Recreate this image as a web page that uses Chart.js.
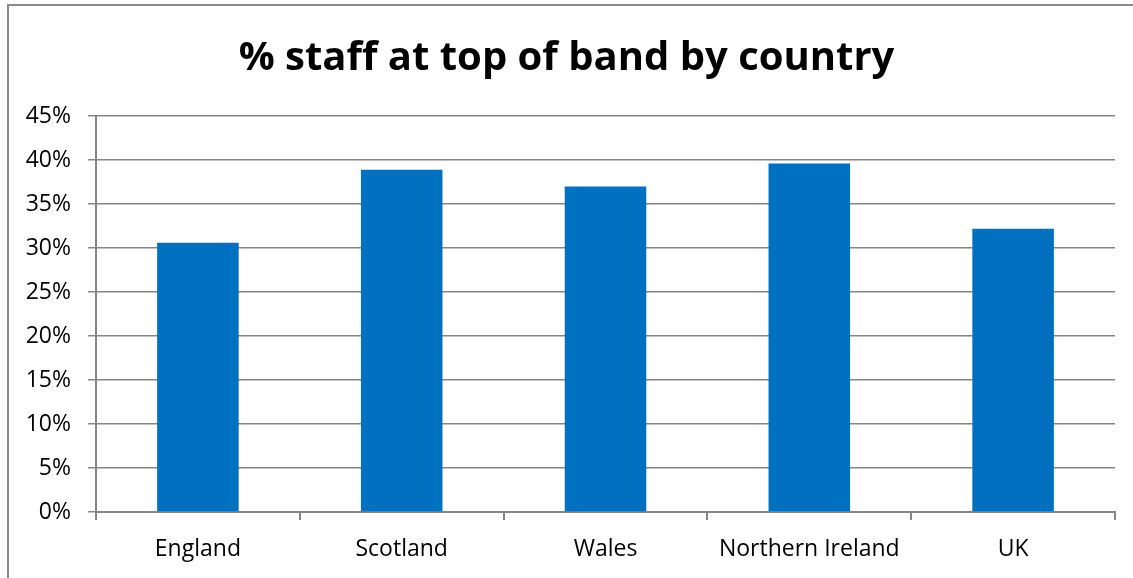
<!DOCTYPE html>
<html>
<head>
<meta charset="utf-8">
<script src="https://cdn.jsdelivr.net/npm/chart.js@4.4.0/dist/chart.umd.min.js"></script>
<style>
  html, body { margin: 0; padding: 0; background: #fff; }
  #wrap { position: relative; width: 1133px; height: 578px; overflow: hidden; }
  #frame { position: absolute; left: 7px; top: 4px; width: 1200px; height: 700px;
           border-top: 2px solid #8a8a8a; border-left: 2px solid #8a8a8a; }
  canvas { position: absolute; left: 0; top: 0; }
</style>
</head>
<body>
<div id="wrap">
  <div id="frame"></div>
  <canvas id="myChart" width="1133" height="578"></canvas>
</div>
<script>
// DATA
const chartTitle = "% staff at top of band by country";
const countries = ["England", "Scotland", "Wales", "Northern Ireland", "UK"];
const topOfBandPct = [30.6, 38.9, 37.0, 39.6, 32.2];
const yTickValues = [0, 5, 10, 15, 20, 25, 30, 35, 40, 45];

const gridGrey = "#868686";
const barBlue = "#0070C0";

const ctx = document.getElementById("myChart").getContext("2d");

const myChartObj = new Chart(ctx, {
  type: "bar",
  data: {
    labels: countries,
    datasets: [
      {
        label: "% staff at top of band",
        data: topOfBandPct,
        backgroundColor: barBlue,
        borderWidth: 0,
        barPercentage: 0.4,
        categoryPercentage: 1,
      },
    ],
  },
  options: {
    responsive: false,
    animation: false,
    layout: {
      padding: { left: 18, right: 18, top: 0, bottom: 0 },
    },
    plugins: {
      legend: { display: false },
      tooltip: { enabled: false },
      title: {
        display: true,
        text: chartTitle,
        color: "#000",
        font: { family: "'Open Sans'", size: 40, weight: "bold", lineHeight: 1.2 },
        padding: { top: 35, bottom: 33 },
      },
    },
    scales: {
      x: {
        offset: true,
        grid: {
          offset: true,
          drawOnChartArea: false,
          drawTicks: true,
          tickLength: 8,
          color: gridGrey,
          lineWidth: 2,
        },
        border: { display: true, color: gridGrey, width: 2 },
        ticks: {
          color: "#000",
          font: { family: "'Open Sans'", size: 23 },
          padding: 16,
          maxRotation: 0,
          autoSkip: false,
        },
        afterFit: (scale) => {
          scale.height = 66;
        },
      },
      y: {
        min: 0,
        max: 45,
        grid: {
          color: gridGrey,
          lineWidth: 1.5,
          tickLength: 8,
          drawTicks: true,
        },
        border: { display: true, color: gridGrey, width: 2 },
        ticks: {
          color: "#000",
          font: { family: "'Open Sans'", size: 23 },
          padding: 17,
          callback: (v) => v + "%",
        },
        afterBuildTicks: (scale) => {
          scale.ticks = yTickValues.map((v) => ({ value: v }));
        },
        afterFit: (scale) => {
          scale.width = 78;
        },
      },
    },
  },
});
</script>
</body>
</html>
